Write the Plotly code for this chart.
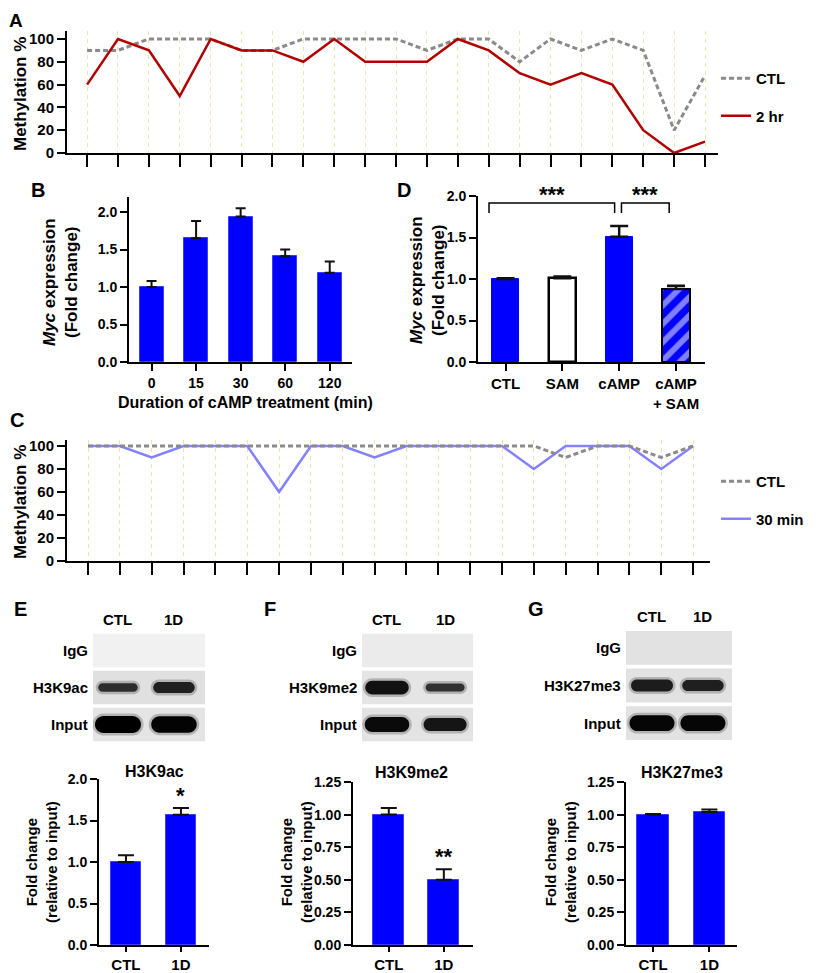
import plotly.graph_objects as go

# page body has an 8px default margin: the figure is placed at (8, 8) inside the 820x973 window
OFF = 8
FW, FH = 820 - OFF, 973 - OFF
def X(p): return (p - OFF) / FW
def Y(p): return 1 - (p - OFF) / FH

FONT = "Liberation Sans, Arial, sans-serif"
BLUE = "#0000ff"

# ---------------- data ----------------
sites_a = list(range(1, 22))
meth_a_ctl = [90, 90, 100, 100, 100, 90, 90, 100, 100, 100, 100, 90, 100, 100, 80, 100, 90, 100, 90, 20, 68]
meth_a_2hr = [60, 100, 90, 50, 100, 90, 90, 80, 100, 80, 80, 80, 100, 90, 70, 60, 70, 60, 20, 0, 10]

b_time = ["0", "15", "30", "60", "120"]
b_mean = [1.00, 1.65, 1.94, 1.41, 1.19]
b_err = [0.08, 0.23, 0.11, 0.09, 0.15]
b_sig = ["", "", "**", "", ""]

sites_c = list(range(1, 21))
meth_c_ctl = [100, 100, 100, 100, 100, 100, 100, 100, 100, 100, 100, 100, 100, 100, 100, 90, 100, 100, 90, 100]
meth_c_30 = [100, 100, 90, 100, 100, 100, 60, 100, 100, 90, 100, 100, 100, 100, 80, 100, 100, 100, 80, 100]

d_groups = ["CTL", "SAM", "cAMP", "cAMP<br>+ SAM"]
d_mean = [1.00, 1.01, 1.51, 0.88]
d_err = [0.01, 0.02, 0.13, 0.04]
d_pairs = [(0, 2, "***"), (2, 3, "***")]

chip_groups = ["CTL", "1D"]
e_mean, e_err, e_sig = [1.00, 1.57], [0.08, 0.08], ["", "*"]
f_mean, f_err, f_sig = [1.00, 0.50], [0.05, 0.08], ["", "**"]
g_mean, g_err, g_sig = [1.00, 1.02], [0.005, 0.02], ["", ""]

# gel band signal (0..1) per lane [CTL, 1D]; rows listed bottom to top
e_gel = {"Input": [1.00, 0.95], "H3K9ac": [0.35, 0.55], "IgG": [0.0, 0.0]}
f_gel = {"Input": [0.85, 0.70], "H3K9me2": [0.75, 0.30], "IgG": [0.0, 0.0]}
g_gel = {"Input": [0.90, 0.90], "H3K27me3": [0.60, 0.55], "IgG": [0.0, 0.0]}

# ---------------- figure ----------------
fig = go.Figure()

# Panel A
fig.add_trace(go.Scatter(x=sites_a, y=meth_a_ctl, mode="lines", name="CTL",
                         line=dict(color="#8a8a8a", width=3, dash="5px,3px"),
                         xaxis="x", yaxis="y", legend="legend", legendgroup="a1"))
fig.add_trace(go.Scatter(x=sites_a, y=meth_a_2hr, mode="lines", name="2 hr",
                         line=dict(color="#b00000", width=2.5),
                         xaxis="x", yaxis="y", legend="legend", legendgroup="a2"))

# Panel C
fig.add_trace(go.Scatter(x=sites_c, y=meth_c_30, mode="lines", name="30 min",
                         line=dict(color="#8282ff", width=2.5),
                         xaxis="x3", yaxis="y3", legend="legend2", legendgroup="c2", legendrank=2))
fig.add_trace(go.Scatter(x=sites_c, y=meth_c_ctl, mode="lines", name="CTL",
                         line=dict(color="#8a8a8a", width=3, dash="5px,3px"),
                         xaxis="x3", yaxis="y3", legend="legend2", legendgroup="c1", legendrank=1))

def err(arr, width, thick=2):
    return dict(type="data", symmetric=False, array=arr, arrayminus=[0] * len(arr),
                color="#111111", thickness=thick, width=width)

# Panel B
fig.add_trace(go.Bar(x=b_time, y=b_mean, width=0.54, xaxis="x2", yaxis="y2", showlegend=False,
                     marker=dict(color=BLUE, line=dict(color="#3c3cff", width=1)),
                     error_y=err(b_err, 5)))

# Panel D
fig.add_trace(go.Bar(x=d_groups, y=d_mean, width=0.48, xaxis="x4", yaxis="y4", showlegend=False,
                     marker=dict(color=[BLUE, "#ffffff", BLUE, BLUE],
                                 line=dict(color=[BLUE, "#000000", BLUE, "#000000"], width=[1, 2.5, 1, 2]),
                                 pattern=dict(shape=["", "", "", "/"], fgcolor="#ffffff", bgcolor=BLUE,
                                              size=13, solidity=0.45)),
                     error_y=err(d_err, 9, 2.5)))

# Panels E, F, G bars
for vals, errs, xa, ya in [(e_mean, e_err, "x5", "y5"), (f_mean, f_err, "x6", "y6"), (g_mean, g_err, "x7", "y7")]:
    fig.add_trace(go.Bar(x=chip_groups, y=vals, width=0.56, xaxis=xa, yaxis=ya, showlegend=False,
                         marker=dict(color=BLUE, line=dict(color="#3c3cff", width=1)),
                         error_y=err(errs, 8)))

# ---------------- axes ----------------
def ax(**kw):
    base = dict(showline=True, linecolor="black", linewidth=2, ticks="outside", tickcolor="black",
                tickwidth=2, ticklen=7, showgrid=False, zeroline=False, fixedrange=True,
                tickfont=dict(family=FONT, size=14, color="black", weight="bold"))
    base.update(kw)
    return base

def tf(size):
    return dict(family=FONT, size=size, color="black", weight="bold")

grid = dict(showgrid=True, gridcolor="#f0e2ae", griddash="4px,4px", gridwidth=1)
layout = dict(
    xaxis=ax(domain=[X(67), X(718)], range=[0.35, 21.42], anchor="y", tickvals=sites_a,
             showticklabels=False, ticklen=12, tickwidth=1.5, **grid),
    yaxis=ax(domain=[Y(153), Y(31)], range=[0, 107], anchor="x", tickvals=[0, 20, 40, 60, 80, 100],
             ticklen=8, tickfont=tf(15)),
    xaxis3=ax(domain=[X(67), X(710)], range=[0.34, 20.53], anchor="y3", tickvals=sites_c,
              showticklabels=False, ticklen=12, tickwidth=1.5, **grid),
    yaxis3=ax(domain=[Y(561), Y(440)], range=[0, 105.2], anchor="x3", tickvals=[0, 20, 40, 60, 80, 100],
              ticklen=8, tickfont=tf(15)),
    xaxis2=ax(domain=[X(129), X(352)], type="category", range=[-0.506, 4.5], anchor="y2", tickfont=tf(14)),
    yaxis2=ax(domain=[Y(362), Y(197)], range=[0, 2.2], anchor="x2", tickvals=[0, 0.5, 1, 1.5, 2], tickformat=".1f"),
    xaxis4=ax(domain=[X(478), X(705)], type="category", range=[-0.484, 3.51], anchor="y4", tickfont=tf(15)),
    yaxis4=ax(domain=[Y(362), Y(196)], range=[0, 2.0], anchor="x4", tickvals=[0, 0.5, 1, 1.5, 2], tickformat=".1f"),
    xaxis5=ax(domain=[X(99), X(209)], type="category", range=[-0.49, 1.51], anchor="y5", tickfont=tf(15), ticklen=5),
    yaxis5=ax(domain=[Y(945), Y(779)], range=[0, 2.0], anchor="x5", tickvals=[0, 0.5, 1, 1.5, 2], tickformat=".1f"),
    xaxis6=ax(domain=[X(353), X(473)], type="category", range=[-0.65, 1.53], anchor="y6", tickfont=tf(15), ticklen=5),
    yaxis6=ax(domain=[Y(945), Y(782)], range=[0, 1.25], anchor="x6",
              tickvals=[0, 0.25, 0.5, 0.75, 1.0, 1.25], tickformat=".2f"),
    xaxis7=ax(domain=[X(626), X(737)], type="category", range=[-0.48, 1.49], anchor="y7", tickfont=tf(15), ticklen=5),
    yaxis7=ax(domain=[Y(945), Y(782)], range=[0, 1.25], anchor="x7",
              tickvals=[0, 0.25, 0.5, 0.75, 1.0, 1.25], tickformat=".2f"),
)

# gel axes (hidden), lanes at 0/1, rows 0..2 (Input, mark, IgG)
gels = [
    ("x8", "y8", e_gel, [X(93), X(205)], [Y(743), Y(632)], [-0.446, 1.554], ["#e4e4e4", "#e0e0e0", "#f1f1f1"]),
    ("x9", "y9", f_gel, [X(362), X(473)], [Y(743), Y(632)], [-0.43, 1.48], ["#e3e3e3", "#e5e5e5", "#ebebeb"]),
    ("x10", "y10", g_gel, [X(626), X(732)], [Y(742), Y(629)], [-0.51, 1.57], ["#e2e2e2", "#e2e2e2", "#e2e2e2"]),
]
shapes = []
annotations = []

def band_path(cx, cy, hw, hh, rx):
    k = 0.5523
    xl, xr = cx - hw + rx, cx + hw - rx
    return (f"M{xl},{cy-hh} L{xr},{cy-hh} "
            f"C{xr+k*rx},{cy-hh} {cx+hw},{cy-k*hh} {cx+hw},{cy} "
            f"C{cx+hw},{cy+k*hh} {xr+k*rx},{cy+hh} {xr},{cy+hh} "
            f"L{xl},{cy+hh} "
            f"C{xl-k*rx},{cy+hh} {cx-hw},{cy+k*hh} {cx-hw},{cy} "
            f"C{cx-hw},{cy-k*hh} {xl-k*rx},{cy-hh} {xl},{cy-hh} Z")

for xa, ya, gel, xd, yd, xr, rowcols in gels:
    n = xa[1:]
    layout["xaxis" + n] = dict(domain=xd, range=xr, visible=False, fixedrange=True, anchor=ya)
    layout["yaxis" + n] = dict(domain=yd, range=[0, 3], visible=False, fixedrange=True, anchor=xa)
    lane_px = (xd[1] - xd[0]) * FW / (xr[1] - xr[0])
    row_px = (yd[1] - yd[0]) * FH / 3
    for r, (rowname, sig) in enumerate(gel.items()):
        shapes.append(dict(type="rect", xref=xa + " domain", yref=ya, x0=0, x1=1, y0=r + 0.05, y1=r + 0.95,
                           fillcolor=rowcols[r], line=dict(width=0), layer="below"))
        annotations.append(dict(text=rowname, xref=xa + " domain", x=0, xanchor="right", xshift=-3,
                                yref=ya, y=r + 0.5, showarrow=False, font=tf(15)))
        for lane, s in enumerate(sig):
            if s <= 0:
                continue
            h_px = 4 + 13 * s
            w_px = 36 + 10 * s
            gray = int(70 * (1 - s))
            for extra, col, op in [(2.5, "#777777", 0.45), (0, f"rgb({gray},{gray},{gray})", 1.0)]:
                hh = (h_px / 2 + extra) / row_px
                hw = (w_px / 2 + extra) / lane_px
                rx = (h_px / 2 + extra) / lane_px
                shapes.append(dict(type="path", xref=xa, yref=ya,
                                   path=band_path(lane, r + 0.5, hw, hh, rx),
                                   fillcolor=col, opacity=op, line=dict(width=0)))
    for lane, g in enumerate(chip_groups):
        annotations.append(dict(text=g, xref=xa, x=lane, yref=ya, y=3, yanchor="bottom", yshift=2,
                                showarrow=False, font=tf(15)))

# D significance brackets
insets = [(-0.29, -0.08), (0.04, -0.12)]
for (a, b, txt), (ia, ib) in zip(d_pairs, insets):
    x0, x1 = a + ia, b + ib
    shapes.append(dict(type="path", xref="x4", yref="y4",
                       path=f"M{x0},1.795 L{x0},1.916 L{x1},1.916 L{x1},1.795",
                       line=dict(color="black", width=1.5)))
    annotations.append(dict(text=txt, xref="x4", x=(x0 + x1) / 2, yref="y4", y=1.916, yanchor="bottom",
                            yshift=-6, showarrow=False, font=tf(22)))

# asterisks over bars
for cats, means, errs, sigs, xa, ya in [(b_time, b_mean, b_err, b_sig, "x2", "y2"),
                                        (chip_groups, e_mean, e_err, e_sig, "x5", "y5"),
                                        (chip_groups, f_mean, f_err, f_sig, "x6", "y6")]:
    for c, m, e, s in zip(cats, means, errs, sigs):
        if s:
            annotations.append(dict(text=s, xref=xa, x=c, yref=ya, y=m + e, yanchor="bottom", yshift=-2,
                                    showarrow=False, font=tf(22)))

def ann(text, x, y, size=15, angle=0, weight="bold"):
    return dict(text=text, x=X(x), y=Y(y), xref="paper", yref="paper", showarrow=False,
                textangle=angle, xanchor="center", yanchor="middle",
                font=dict(family=FONT, size=size, color="black", weight=weight))

annotations += [
    ann("A", 16, 21, 19), ann("B", 38, 190, 20), ann("D", 404, 190, 20), ann("C", 17, 420, 20),
    ann("E", 20, 609, 20), ann("F", 270, 609, 20), ann("G", 536, 609, 20),
    ann("Methylation %", 20, 94, 17, -90),
    ann("Methylation %", 20, 502, 17, -90),
    ann("<i>Myc</i> expression<br>(Fold change)", 60, 282, 17, -90),
    ann("<i>Myc</i> expression<br>(Fold change)", 427, 280, 17, -90),
    ann("Duration of cAMP treatment (min)", 245, 402, 16),
    ann("Fold change<br>(relative to input)", 41, 862, 15, -90),
    ann("Fold change<br>(relative to input)", 296, 862, 15, -90),
    ann("Fold change<br>(relative to input)", 560, 862, 15, -90),
    ann("H3K9ac", 154, 771, 16), ann("H3K9me2", 411, 772, 16), ann("H3K27me3", 682, 772, 16),
]

legend_style = dict(xanchor="left", yanchor="top", bgcolor="rgba(0,0,0,0)", borderwidth=0,
                    traceorder="grouped", tracegroupgap=15, itemwidth=30,
                    font=dict(family=FONT, size=15, color="black", weight="bold"))
layout["legend"] = dict(x=X(716), y=Y(62), **legend_style)
layout["legend2"] = dict(x=X(716), y=Y(465), **legend_style)

fig.update_layout(width=FW, height=FH, margin=dict(l=0, r=0, t=0, b=0, autoexpand=False),
                  paper_bgcolor="white", plot_bgcolor="white", showlegend=True,
                  shapes=shapes, annotations=annotations, bargap=0, **layout)

fig.write_html("out.html")
